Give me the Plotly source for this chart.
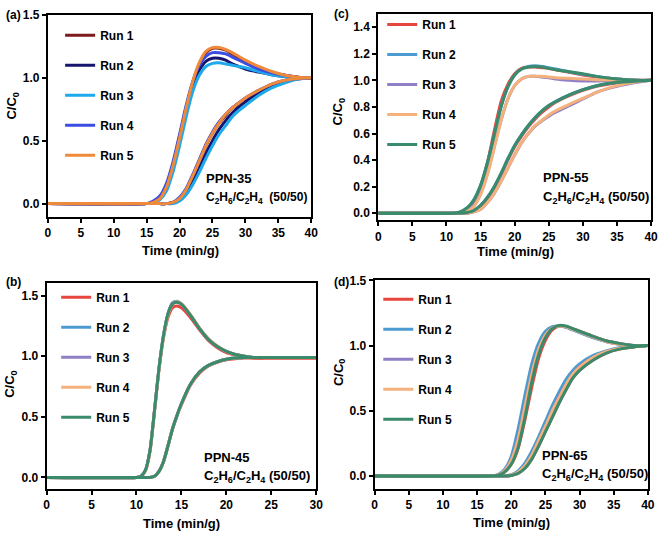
import plotly.graph_objects as go

W, H = 666, 533

RUNS = ["Run 1", "Run 2", "Run 3", "Run 4", "Run 5"]
COLORS_A = ["#7d1a1c", "#15156e", "#1ea9ec", "#3b4ce0", "#ef8a3a"]
COLORS_BCD = ["#e6463d", "#4c9bd0", "#8f7fc6", "#f4b17c", "#3a8a6c"]

# ---------------- (a) PPN-35 ----------------
A_T = [0, 15, 16, 17, 18, 19, 20, 21, 22, 23, 24, 25, 26, 27, 28, 29, 30, 32, 34, 36, 38, 40]
A_C2H4 = [
    [0, 0, 0.01, 0.04, 0.13, 0.30, 0.52, 0.76, 0.96, 1.11, 1.20, 1.235, 1.235, 1.22, 1.19, 1.16, 1.13, 1.08, 1.045, 1.02, 1.005, 1.0],
    [0, 0, 0.01, 0.05, 0.14, 0.31, 0.53, 0.76, 0.94, 1.06, 1.13, 1.155, 1.155, 1.14, 1.11, 1.09, 1.07, 1.045, 1.025, 1.01, 1.0, 1.0],
    [0, 0, 0.005, 0.03, 0.10, 0.25, 0.46, 0.69, 0.89, 1.02, 1.09, 1.115, 1.12, 1.11, 1.10, 1.09, 1.08, 1.05, 1.025, 1.01, 1.0, 1.0],
    [0, 0, 0.02, 0.06, 0.16, 0.33, 0.55, 0.78, 0.97, 1.10, 1.17, 1.20, 1.20, 1.19, 1.165, 1.14, 1.115, 1.07, 1.04, 1.02, 1.005, 1.0],
    [0, 0, 0.01, 0.04, 0.13, 0.30, 0.52, 0.76, 0.97, 1.12, 1.21, 1.24, 1.24, 1.225, 1.20, 1.17, 1.14, 1.09, 1.05, 1.02, 1.005, 1.0],
]
A_C2H6 = [
    [0, 0, 0, 0, 0, 0.01, 0.04, 0.11, 0.22, 0.34, 0.46, 0.56, 0.64, 0.70, 0.76, 0.80, 0.835, 0.895, 0.945, 0.975, 0.995, 1.0],
    [0, 0, 0, 0, 0, 0.01, 0.03, 0.08, 0.17, 0.28, 0.40, 0.50, 0.59, 0.66, 0.72, 0.77, 0.81, 0.88, 0.93, 0.97, 0.99, 1.0],
    [0, 0, 0, 0, 0, 0, 0.02, 0.07, 0.15, 0.25, 0.36, 0.46, 0.55, 0.62, 0.69, 0.74, 0.78, 0.86, 0.92, 0.96, 0.99, 1.0],
    [0, 0, 0, 0, 0, 0.01, 0.05, 0.12, 0.23, 0.35, 0.47, 0.57, 0.65, 0.71, 0.76, 0.80, 0.84, 0.90, 0.95, 0.98, 0.995, 1.0],
    [0, 0, 0, 0, 0, 0.01, 0.04, 0.11, 0.22, 0.34, 0.46, 0.56, 0.64, 0.71, 0.76, 0.80, 0.84, 0.90, 0.95, 0.98, 0.995, 1.0],
]

# ---------------- (b) PPN-45 ----------------
B_T = [0, 10, 10.5, 11, 11.5, 12, 12.5, 13, 13.5, 14, 14.5, 15, 16, 17, 18, 19, 20, 21, 22, 23, 25, 27, 30]
B_C2H4 = [
    [0, 0, 0.01, 0.06, 0.22, 0.55, 0.89, 1.15, 1.32, 1.40, 1.415, 1.40, 1.32, 1.22, 1.13, 1.07, 1.03, 1.01, 0.995, 0.985, 0.985, 0.985, 0.985],
    [0, 0, 0.01, 0.06, 0.22, 0.55, 0.90, 1.17, 1.35, 1.44, 1.455, 1.43, 1.34, 1.23, 1.14, 1.08, 1.04, 1.015, 1.0, 0.99, 0.99, 0.99, 0.99],
    [0, 0, 0.01, 0.06, 0.22, 0.55, 0.90, 1.17, 1.35, 1.44, 1.45, 1.43, 1.34, 1.235, 1.145, 1.08, 1.04, 1.015, 1.0, 0.99, 0.99, 0.99, 0.99],
    [0, 0, 0.01, 0.05, 0.21, 0.54, 0.89, 1.16, 1.34, 1.43, 1.45, 1.435, 1.345, 1.235, 1.145, 1.085, 1.04, 1.015, 1.0, 0.99, 0.99, 0.99, 0.99],
    [0, 0, 0.01, 0.06, 0.22, 0.55, 0.90, 1.17, 1.35, 1.43, 1.445, 1.43, 1.34, 1.23, 1.14, 1.08, 1.04, 1.015, 1.0, 0.99, 0.99, 0.99, 0.99],
]
B_C2H6 = [
    [0, 0, 0, 0, 0, 0.01, 0.05, 0.13, 0.26, 0.40, 0.51, 0.60, 0.76, 0.86, 0.92, 0.95, 0.97, 0.98, 0.985, 0.985, 0.985, 0.985, 0.985],
    [0, 0, 0, 0, 0, 0.01, 0.05, 0.13, 0.26, 0.40, 0.51, 0.61, 0.77, 0.87, 0.925, 0.955, 0.975, 0.985, 0.99, 0.99, 0.99, 0.99, 0.99],
    [0, 0, 0, 0, 0, 0.01, 0.05, 0.13, 0.26, 0.40, 0.51, 0.61, 0.77, 0.87, 0.925, 0.955, 0.975, 0.985, 0.99, 0.99, 0.99, 0.99, 0.99],
    [0, 0, 0, 0, 0, 0.01, 0.05, 0.13, 0.26, 0.40, 0.51, 0.61, 0.77, 0.87, 0.925, 0.955, 0.975, 0.985, 0.99, 0.99, 0.99, 0.99, 0.99],
    [0, 0, 0, 0, 0, 0.01, 0.05, 0.13, 0.26, 0.40, 0.51, 0.61, 0.77, 0.87, 0.925, 0.955, 0.975, 0.985, 0.99, 0.99, 0.99, 0.99, 0.99],
]

# ---------------- (c) PPN-55 ----------------
C_T = [0, 10, 11, 12, 13, 14, 15, 16, 17, 18, 19, 20, 21, 22, 23, 24, 25, 26, 28, 30, 32, 35, 38, 40]
C_C2H4 = [
    [0, 0, 0, 0.005, 0.03, 0.09, 0.20, 0.38, 0.62, 0.84, 0.97, 1.05, 1.09, 1.10, 1.10, 1.095, 1.09, 1.08, 1.06, 1.04, 1.025, 1.01, 1.0, 1.0],
    [0, 0, 0, 0.01, 0.04, 0.10, 0.21, 0.38, 0.59, 0.80, 0.95, 1.04, 1.085, 1.105, 1.11, 1.105, 1.095, 1.085, 1.065, 1.045, 1.03, 1.01, 1.0, 1.0],
    [0, 0, 0, 0, 0.02, 0.06, 0.15, 0.30, 0.50, 0.70, 0.86, 0.96, 1.01, 1.03, 1.03, 1.025, 1.02, 1.01, 1.0, 0.995, 0.995, 1.0, 1.0, 1.0],
    [0, 0, 0, 0, 0.015, 0.05, 0.14, 0.29, 0.49, 0.70, 0.86, 0.96, 1.01, 1.03, 1.03, 1.03, 1.025, 1.02, 1.015, 1.01, 1.005, 1.0, 1.0, 1.0],
    [0, 0, 0, 0.01, 0.04, 0.10, 0.21, 0.38, 0.59, 0.80, 0.95, 1.04, 1.085, 1.10, 1.105, 1.10, 1.09, 1.08, 1.065, 1.05, 1.03, 1.01, 1.0, 1.0],
]
C_C2H6 = [
    [0, 0, 0, 0, 0, 0.015, 0.05, 0.11, 0.19, 0.29, 0.40, 0.50, 0.58, 0.65, 0.71, 0.76, 0.80, 0.835, 0.885, 0.925, 0.955, 0.98, 0.995, 1.0],
    [0, 0, 0, 0, 0, 0.02, 0.06, 0.12, 0.20, 0.30, 0.41, 0.51, 0.59, 0.66, 0.72, 0.77, 0.81, 0.84, 0.89, 0.93, 0.96, 0.985, 0.995, 1.0],
    [0, 0, 0, 0, 0, 0.01, 0.03, 0.08, 0.15, 0.24, 0.34, 0.44, 0.53, 0.60, 0.655, 0.695, 0.73, 0.76, 0.81, 0.86, 0.91, 0.955, 0.985, 1.0],
    [0, 0, 0, 0, 0, 0.01, 0.03, 0.08, 0.15, 0.24, 0.34, 0.44, 0.53, 0.60, 0.66, 0.70, 0.74, 0.77, 0.82, 0.865, 0.91, 0.96, 0.99, 1.0],
    [0, 0, 0, 0, 0.005, 0.02, 0.06, 0.12, 0.20, 0.30, 0.41, 0.51, 0.59, 0.66, 0.72, 0.77, 0.81, 0.84, 0.89, 0.93, 0.96, 0.985, 0.995, 1.0],
]

# ---------------- (d) PPN-65 ----------------
D_T = [0, 17, 18, 19, 20, 21, 22, 23, 24, 25, 26, 27, 28, 29, 30, 32, 34, 36, 38, 40]
D_C2H4 = [
    [0, 0, 0.005, 0.03, 0.09, 0.21, 0.43, 0.68, 0.90, 1.04, 1.12, 1.15, 1.145, 1.13, 1.11, 1.07, 1.035, 1.015, 1.0, 1.0],
    [0, 0, 0.01, 0.05, 0.15, 0.36, 0.62, 0.86, 1.02, 1.11, 1.145, 1.15, 1.14, 1.12, 1.10, 1.06, 1.03, 1.01, 1.0, 1.0],
    [0, 0, 0.008, 0.04, 0.12, 0.29, 0.54, 0.79, 0.97, 1.08, 1.135, 1.15, 1.145, 1.125, 1.105, 1.065, 1.03, 1.01, 1.0, 1.0],
    [0, 0, 0.008, 0.04, 0.12, 0.28, 0.53, 0.78, 0.97, 1.08, 1.135, 1.15, 1.145, 1.125, 1.105, 1.065, 1.03, 1.01, 1.0, 1.0],
    [0, 0, 0.005, 0.03, 0.09, 0.22, 0.45, 0.72, 0.93, 1.06, 1.13, 1.155, 1.15, 1.13, 1.11, 1.07, 1.035, 1.015, 1.0, 1.0],
]
D_C2H6 = [
    [0, 0, 0, 0, 0.005, 0.02, 0.06, 0.13, 0.23, 0.34, 0.45, 0.56, 0.66, 0.75, 0.81, 0.89, 0.945, 0.975, 0.99, 1.0],
    [0, 0, 0, 0, 0.01, 0.04, 0.10, 0.19, 0.30, 0.42, 0.54, 0.645, 0.74, 0.81, 0.86, 0.925, 0.96, 0.985, 0.995, 1.0],
    [0, 0, 0, 0, 0.008, 0.03, 0.08, 0.16, 0.27, 0.38, 0.50, 0.61, 0.70, 0.78, 0.84, 0.91, 0.955, 0.98, 0.995, 1.0],
    [0, 0, 0, 0, 0.008, 0.03, 0.08, 0.16, 0.27, 0.38, 0.50, 0.60, 0.70, 0.78, 0.835, 0.91, 0.955, 0.98, 0.995, 1.0],
    [0, 0, 0, 0, 0.005, 0.02, 0.06, 0.13, 0.23, 0.34, 0.45, 0.56, 0.66, 0.75, 0.81, 0.89, 0.945, 0.975, 0.99, 1.0],
]

FONT = "Arial, 'Liberation Sans', Helvetica, sans-serif"


def px_x(p):
    return p / W


def px_y(p):
    return 1 - p / H


# panel layout (pixel boxes: left, right, top, bottom)
PANELS = [
    dict(key="a", name="PPN-35", gap="  ", gsize=12, t=A_T, e=A_C2H4, s=A_C2H6, colors=COLORS_A,
         box=(45.5, 313, 8, 212.5), xr=[0, 40], xd=5, yr=[-0.104, 1.5], yd=0.5,
         leg=(58, 14), lab=(204, 174), xt=(180, 247), yt=(10, 100)),
    dict(key="c", name="PPN-55", gap=" ", gsize=13, t=C_T, e=C_C2H4, s=C_C2H6, colors=COLORS_BCD,
         box=(381, 658, 7, 216), xr=[0, 40], xd=5, yr=[-0.052, 1.5], yd=0.2,
         leg=(385, 3), lab=(546, 173), xt=(520, 248), yt=(341, 106)),
    dict(key="b", name="PPN-45", gap=" ", gsize=13, t=B_T, e=B_C2H4, s=B_C2H6, colors=COLORS_BCD,
         box=(44.3, 318, 280, 488), xr=[0, 30], xd=5, yr=[-0.092, 1.602], yd=0.5,
         leg=(54, 279.5), lab=(202, 456), xt=(181, 523), yt=(8, 382)),
    dict(key="d", name="PPN-65", gap=" ", gsize=13, t=D_T, e=D_C2H4, s=D_C2H6, colors=COLORS_BCD,
         box=(377.3, 654.7, 277, 488), xr=[0, 40], xd=5, yr=[-0.096, 1.5], yd=0.5,
         leg=(381, 281.5), lab=(545, 454), xt=(516, 522), yt=(341, 370)),
]

fig = go.Figure()
layout = dict(
    width=W, height=H, margin=dict(l=0, r=0, t=0, b=0),
    paper_bgcolor="white", plot_bgcolor="white",
    font=dict(family=FONT, size=12, color="black", weight="bold"),
    annotations=[],
)


def note(text, x, y, size=13, xanchor="left", angle=0):
    layout["annotations"].append(dict(
        text=text, xref="paper", yref="paper", x=px_x(x), y=px_y(y),
        xanchor=xanchor, yanchor="middle", showarrow=False, textangle=angle,
        font=dict(family=FONT, size=size, color="black", weight="bold")))


for i, p in enumerate(PANELS):
    n = i + 1
    xa = "x" if n == 1 else f"x{n}"
    ya = "y" if n == 1 else f"y{n}"
    lg = "legend" if n == 1 else f"legend{n}"
    l, r, t, b = p["box"]
    common = dict(showline=True, linewidth=2, linecolor="black", mirror=True,
                  ticks="outside", ticklen=4, tickwidth=2, tickcolor="black",
                  showgrid=False, zeroline=False,
                  tickfont=dict(family=FONT, size=12, color="black", weight="bold"))
    layout["xaxis" if n == 1 else f"xaxis{n}"] = dict(
        domain=[px_x(l), px_x(r)], anchor=ya, range=p["xr"], dtick=p["xd"], tick0=0,
        **common)
    layout["yaxis" if n == 1 else f"yaxis{n}"] = dict(
        domain=[px_y(b), px_y(t)], anchor=xa, range=p["yr"], dtick=p["yd"], tick0=0,
        tickformat=".1f", **common)
    layout[lg] = dict(
        x=px_x(p["leg"][0]), y=px_y(p["leg"][1]), xanchor="left", yanchor="top",
        bgcolor="rgba(0,0,0,0)", borderwidth=0, tracegroupgap=11,
        font=dict(family=FONT, size=12, color="black", weight="bold"),
        itemwidth=30,
    )
    for k in range(5):
        grp = f"{p['key']}{k}"
        fig.add_trace(go.Scatter(
            x=p["t"], y=p["e"][k], mode="lines", name=RUNS[k],
            line=dict(color=p["colors"][k], width=3, shape="spline", smoothing=0.6),
            xaxis=xa, yaxis=ya, legend=lg, legendgroup=grp, showlegend=True))
        fig.add_trace(go.Scatter(
            x=p["t"], y=p["s"][k], mode="lines", name=RUNS[k],
            line=dict(color=p["colors"][k], width=3, shape="spline", smoothing=0.6),
            xaxis=xa, yaxis=ya, legend=lg, legendgroup=grp, showlegend=False))
    lx, ly = p["lab"]
    note(p["name"], lx, ly)
    note("C<sub>2</sub>H<sub>6</sub>/C<sub>2</sub>H<sub>4</sub>" + p["gap"] + "(50/50)",
         lx, ly + 20, size=p["gsize"])
    # axis titles
    note("Time (min/g)", p["xt"][0], p["xt"][1], xanchor="center")
    note("C/C<sub>0</sub>", p["yt"][0], p["yt"][1], xanchor="center", angle=-90)

# panel tags
TAGS = [("(a)", 1, 8), ("(c)", 334, 7), ("(b)", 1, 279), ("(d)", 334, 279)]
for txt, x0, y0 in TAGS:
    note(txt, x0, y0, size=12)

fig.update_layout(**layout)
fig.write_html("out.html")
